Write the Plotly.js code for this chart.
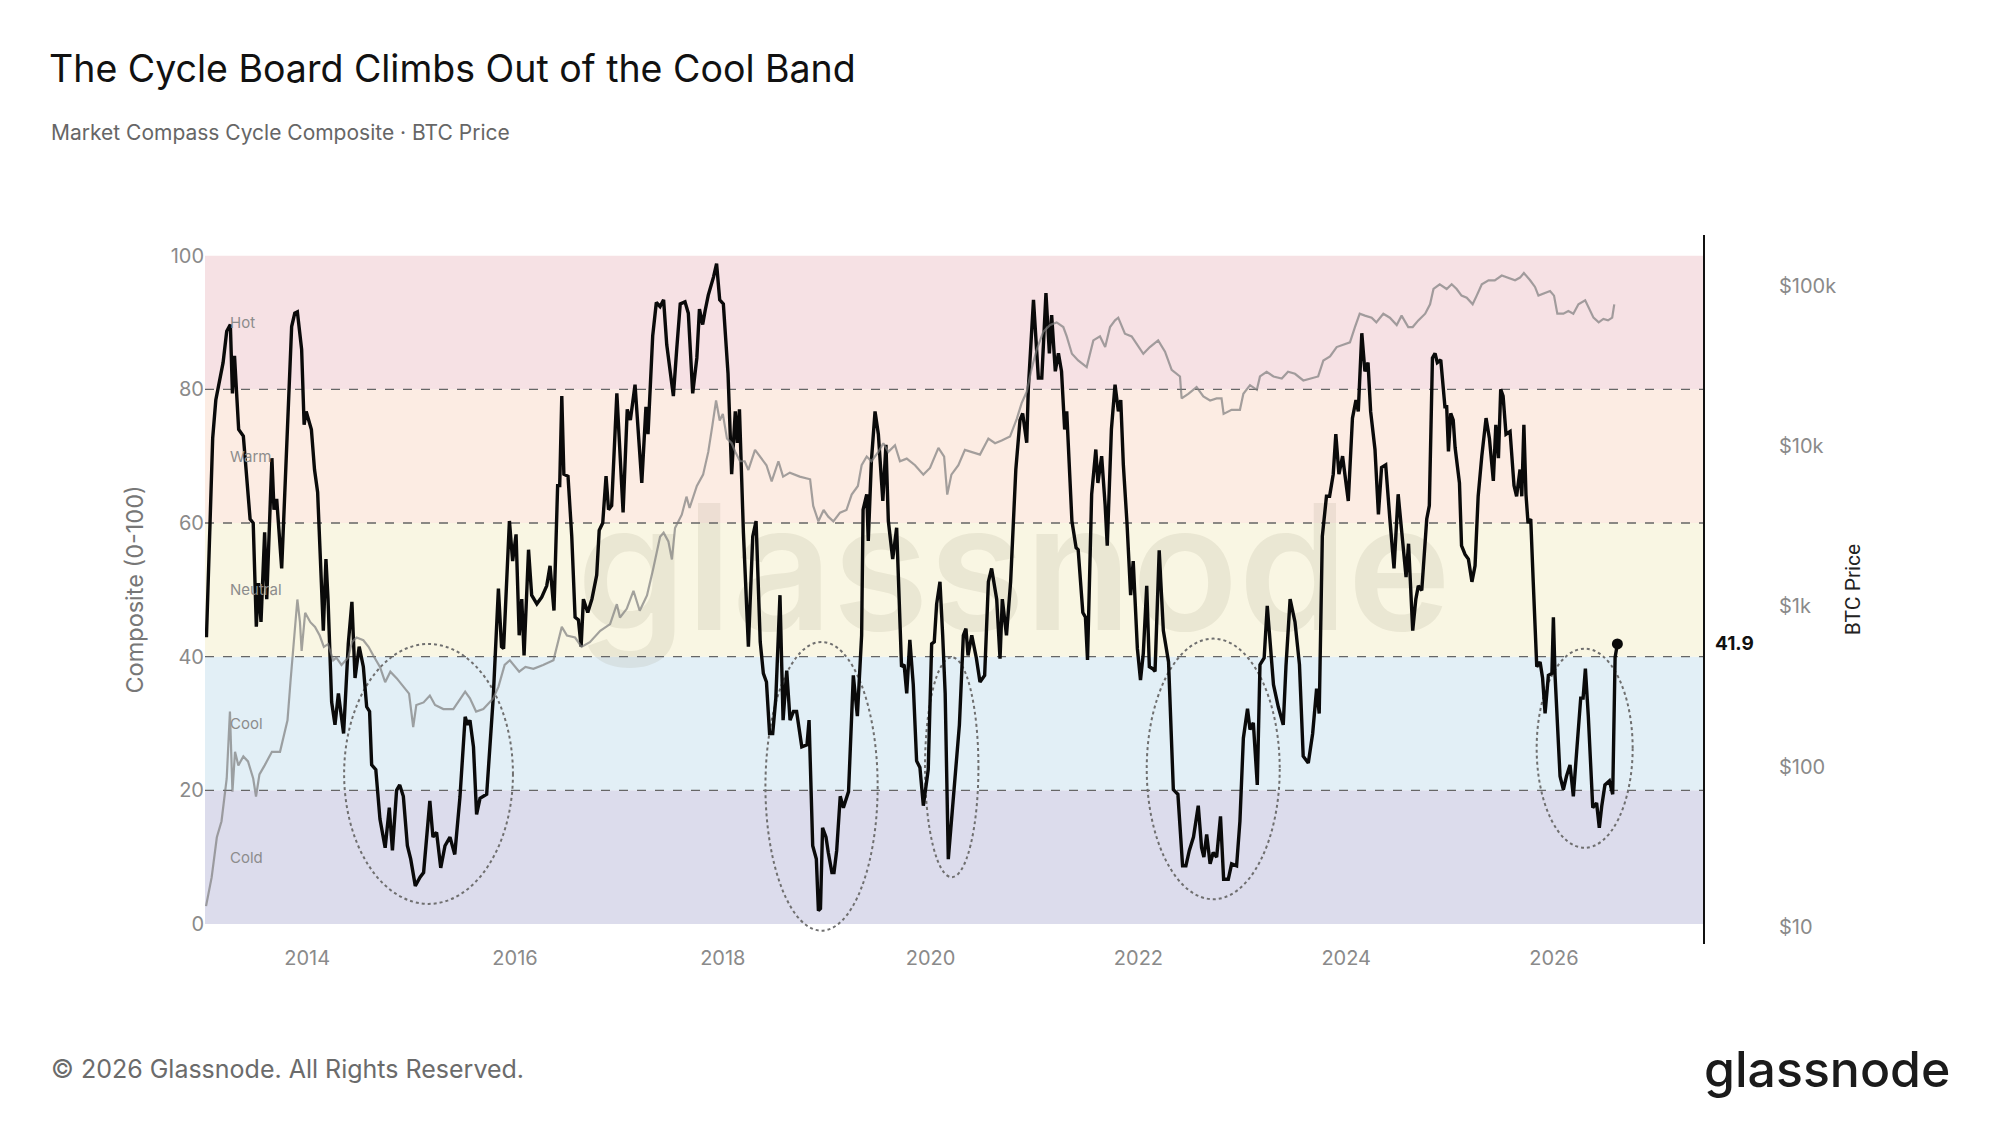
<!DOCTYPE html>
<html>
<head>
<meta charset="utf-8">
<script src="https://cdn.plot.ly/plotly-3.0.1.min.js"></script>
<style>html,body{margin:0;padding:0;background:#fff;}#chart{width:2000px;height:1125px;}</style>
</head>
<body>
<div id="chart"></div>
<script>
// ---- Data ----
const compositeT = [2013.03,2013.09,2013.12,2013.16,2013.19,2013.225,2013.26,2013.28,2013.30,2013.34,2013.385,2013.45,2013.48,2013.51,2013.53,2013.555,2013.59,2013.61,2013.66,2013.68,2013.706,2013.754,2013.82,2013.85,2013.88,2013.905,2013.946,2013.97,2013.99,2014.04,2014.07,2014.10,2014.155,2014.18,2014.20,2014.235,2014.267,2014.30,2014.35,2014.395,2014.43,2014.46,2014.50,2014.54,2014.572,2014.60,2014.62,2014.66,2014.70,2014.75,2014.79,2014.82,2014.86,2014.89,2014.925,2014.964,2014.996,2015.04,2015.086,2015.12,2015.18,2015.21,2015.245,2015.285,2015.326,2015.374,2015.42,2015.47,2015.52,2015.544,2015.566,2015.60,2015.63,2015.663,2015.727,2015.75,2015.79,2015.84,2015.87,2015.89,2015.913,2015.946,2015.977,2016.01,2016.04,2016.065,2016.087,2016.13,2016.16,2016.21,2016.257,2016.305,2016.337,2016.375,2016.41,2016.43,2016.45,2016.47,2016.51,2016.546,2016.578,2016.61,2016.636,2016.658,2016.70,2016.74,2016.786,2016.81,2016.844,2016.876,2016.90,2016.93,2016.98,2017.01,2017.04,2017.08,2017.11,2017.155,2017.19,2017.22,2017.26,2017.28,2017.325,2017.36,2017.396,2017.43,2017.46,2017.524,2017.556,2017.59,2017.636,2017.668,2017.71,2017.75,2017.775,2017.806,2017.83,2017.86,2017.91,2017.94,2017.97,2018.005,2018.05,2018.085,2018.12,2018.14,2018.16,2018.198,2018.246,2018.288,2018.32,2018.36,2018.39,2018.42,2018.45,2018.48,2018.51,2018.55,2018.58,2018.615,2018.647,2018.68,2018.71,2018.76,2018.81,2018.83,2018.865,2018.90,2018.92,2018.94,2018.96,2018.993,2019.015,2019.05,2019.07,2019.096,2019.13,2019.16,2019.21,2019.256,2019.295,2019.31,2019.336,2019.35,2019.385,2019.40,2019.43,2019.465,2019.497,2019.54,2019.57,2019.593,2019.635,2019.673,2019.72,2019.745,2019.77,2019.80,2019.833,2019.865,2019.897,2019.93,2019.977,2020.01,2020.035,2020.058,2020.09,2020.116,2020.14,2020.17,2020.20,2020.235,2020.277,2020.315,2020.34,2020.36,2020.396,2020.44,2020.475,2020.52,2020.556,2020.587,2020.636,2020.668,2020.69,2020.73,2020.77,2020.82,2020.86,2020.886,2020.925,2020.94,2020.99,2021.037,2021.07,2021.11,2021.143,2021.165,2021.20,2021.23,2021.26,2021.29,2021.31,2021.36,2021.40,2021.42,2021.465,2021.49,2021.51,2021.55,2021.59,2021.61,2021.646,2021.68,2021.70,2021.74,2021.775,2021.807,2021.83,2021.855,2021.89,2021.925,2021.95,2021.99,2022.02,2022.047,2022.08,2022.105,2022.137,2022.16,2022.20,2022.24,2022.29,2022.336,2022.38,2022.425,2022.457,2022.49,2022.53,2022.576,2022.608,2022.63,2022.657,2022.69,2022.72,2022.753,2022.79,2022.82,2022.865,2022.897,2022.945,2022.977,2023.01,2023.05,2023.074,2023.106,2023.144,2023.17,2023.21,2023.24,2023.27,2023.30,2023.346,2023.394,2023.42,2023.46,2023.507,2023.55,2023.586,2023.635,2023.677,2023.715,2023.74,2023.77,2023.81,2023.84,2023.875,2023.90,2023.93,2023.965,2024.02,2024.06,2024.094,2024.116,2024.15,2024.18,2024.21,2024.235,2024.277,2024.31,2024.34,2024.38,2024.42,2024.46,2024.50,2024.55,2024.576,2024.60,2024.64,2024.67,2024.694,2024.727,2024.775,2024.80,2024.83,2024.855,2024.877,2024.91,2024.95,2024.967,2024.984,2025.006,2025.03,2025.048,2025.09,2025.11,2025.144,2025.176,2025.21,2025.24,2025.27,2025.305,2025.346,2025.378,2025.416,2025.44,2025.465,2025.487,2025.51,2025.538,2025.577,2025.615,2025.64,2025.673,2025.69,2025.71,2025.73,2025.75,2025.776,2025.80,2025.834,2025.866,2025.89,2025.914,2025.946,2025.98,2025.994,2026.01,2026.058,2026.09,2026.12,2026.154,2026.186,2026.218,2026.257,2026.28,2026.302,2026.33,2026.373,2026.41,2026.436,2026.46,2026.49,2026.533,2026.565,2026.588,2026.61];
const compositeV = [42.9,72.7,78.4,82,84,88.7,89.7,79.4,85,74,73,60.6,60,44.5,51,45.2,58.6,48.6,69.7,62,63.6,53.2,77.4,89.4,91.4,91.6,86,74.7,76.7,74,68,64.6,43.9,54.6,48.6,33.2,29.8,34.5,28.5,41.9,48.2,36.8,41.5,38.5,32.5,31.8,23.8,23.1,15.7,11.4,17.4,11,20,20.8,19.1,11.7,9.7,5.7,7,7.7,18.4,13,13.7,8.4,11.7,13,10.4,19,31,29.8,30.5,26.5,16.4,18.8,19.4,25,33.8,50.2,41.5,41.2,50.2,60.3,54.3,58.3,43.2,48.6,40.2,56,49.2,47.9,48.9,50.6,53.6,46.9,65.6,65.6,79,67.3,67,58,45.9,45.5,41.5,48.6,46.6,48.6,52.2,58.9,60,67,62,62.6,79.4,71.3,61.6,77,75.4,80.7,73.3,66,77.4,73.3,88,93,92.4,93.4,86.7,79,86,92.8,93.1,91.4,79.4,84.7,92,89.7,91.8,94.1,96.8,98.8,93.4,92.8,82.4,67.3,76.7,72,77,58.6,41.5,58,60.3,42.2,37.5,36.2,28.5,28.5,33.8,49.2,30.5,37.9,30.5,31.8,31.8,26.5,26.8,30.5,11.7,9.7,2,2.3,14.4,13,10.7,7.7,7.7,11,19.1,17.4,19.8,37.2,31.1,35.8,43.2,62,64.3,57.3,69.3,76.7,73.3,63.3,71.7,60.3,54.6,59.3,38.5,38.8,34.5,42.5,35.8,24.4,23.4,17.7,23.1,41.9,42.2,47.9,51.2,43.2,34.5,9.7,15.7,22.1,29.8,43.2,44.2,40.2,43.2,39.8,36.2,37.2,51.2,53.2,48.6,39.7,48.6,43.2,51.2,68,75.4,76.4,72,80,93.4,81.7,81.7,94.4,85.4,91.1,82.7,85.4,82.7,74,76.7,60.3,56.3,56,46.6,45.9,39.5,64.3,71,66,70,62.6,56.6,74,80.7,76.7,78.4,68.7,60,49.2,54.3,41.2,36.5,40.5,50.6,38.5,38.2,37.8,55.9,43.9,39.2,20.1,19.4,8.7,8.7,11,13,17.7,11.4,10,13.4,9,10.7,10,16.1,6.7,6.7,9,8.7,15.4,27.8,32.2,29.1,30.1,20.8,38.8,39.8,47.6,41.9,35.8,32.5,29.8,38.5,48.6,45.2,38.8,25.1,24.1,28.5,35.2,31.5,58,64,64,67.3,73.3,67.3,70,63.3,75.7,78.4,76.7,88.4,82.7,84,76.7,71,61.3,68.3,68.7,60.6,53.2,64.3,55.3,51.9,56.9,43.9,48.6,50.6,49.9,60.6,62.6,84.7,85.4,84,84.4,77.4,77.4,70.7,76.4,75.4,71.3,66,56.6,55.3,54.6,51.2,53.6,64,70,75.7,72.7,66.3,74.7,69.7,80,79,73.3,73.7,65.6,64,68,64,74.7,64.3,60,60.6,51.2,38.5,39.2,36.8,31.5,37.2,37.5,45.9,37.2,22.1,20.1,22.1,23.8,19.1,25.8,33.8,33.8,38.2,31.1,17.4,18.1,14.4,17.7,20.8,21.4,19.4,39.9,41.9];

const priceT = [2013.026,2013.08,2013.13,2013.175,2013.225,2013.256,2013.28,2013.305,2013.337,2013.385,2013.43,2013.48,2013.507,2013.54,2013.59,2013.66,2013.738,2013.76,2013.81,2013.84,2013.87,2013.905,2013.93,2013.946,2013.98,2014.03,2014.075,2014.12,2014.16,2014.20,2014.25,2014.28,2014.33,2014.395,2014.43,2014.475,2014.54,2014.59,2014.636,2014.70,2014.75,2014.80,2014.86,2014.925,2014.98,2015.02,2015.05,2015.12,2015.18,2015.23,2015.31,2015.406,2015.52,2015.566,2015.625,2015.695,2015.79,2015.84,2015.90,2015.95,2016.0,2016.04,2016.10,2016.177,2016.27,2016.37,2016.418,2016.45,2016.50,2016.578,2016.64,2016.72,2016.82,2016.915,2016.98,2017.01,2017.075,2017.14,2017.20,2017.27,2017.33,2017.396,2017.43,2017.476,2017.51,2017.54,2017.605,2017.65,2017.68,2017.75,2017.81,2017.86,2017.90,2017.935,2017.97,2018.0,2018.04,2018.085,2018.12,2018.165,2018.21,2018.246,2018.31,2018.36,2018.42,2018.47,2018.535,2018.58,2018.645,2018.74,2018.84,2018.87,2018.92,2018.97,2019.015,2019.064,2019.128,2019.19,2019.24,2019.30,2019.336,2019.385,2019.43,2019.497,2019.545,2019.593,2019.657,2019.705,2019.77,2019.85,2019.93,2019.994,2020.075,2020.13,2020.16,2020.20,2020.267,2020.33,2020.396,2020.475,2020.556,2020.62,2020.684,2020.764,2020.83,2020.876,2020.925,2020.97,2021.02,2021.085,2021.15,2021.213,2021.277,2021.31,2021.36,2021.42,2021.502,2021.566,2021.63,2021.68,2021.727,2021.775,2021.806,2021.87,2021.935,2022.0,2022.047,2022.11,2022.19,2022.256,2022.32,2022.40,2022.416,2022.48,2022.56,2022.625,2022.69,2022.753,2022.80,2022.82,2022.897,2022.977,2023.01,2023.074,2023.14,2023.17,2023.234,2023.30,2023.38,2023.44,2023.507,2023.587,2023.65,2023.73,2023.78,2023.844,2023.908,2023.97,2024.036,2024.084,2024.13,2024.18,2024.245,2024.29,2024.357,2024.42,2024.486,2024.533,2024.597,2024.64,2024.694,2024.76,2024.807,2024.84,2024.90,2024.967,2025.015,2025.063,2025.11,2025.16,2025.217,2025.256,2025.305,2025.37,2025.43,2025.497,2025.56,2025.625,2025.673,2025.71,2025.77,2025.817,2025.85,2025.898,2025.962,2026.0,2026.032,2026.09,2026.138,2026.186,2026.235,2026.30,2026.34,2026.38,2026.43,2026.475,2026.52,2026.56,2026.58];
const priceUSD = [13.5,20.4,36.3,45.7,84.5,221,69.8,124,102,116,108,84.5,65.2,89.6,102,124,124,141,195,347,582,1106,798,528,913,798,746,659,560,582,462,480,432,480,599,640,616,560,494,420,337,392,357,315,286,177,243,252,278,243,229,229,294,267,221,229,267,315,432,462,420,392,420,408,432,462,616,746,659,640,560,599,705,776,1034,854,967,1253,940,1172,1719,2725,2886,2548,1966,3088,3740,4845,4115,5650,6650,9220,13530,19290,14470,15920,11160,10440,9220,8060,8060,7110,9490,8620,7610,6040,8060,6460,6840,6460,6220,4240,3400,4000,3635,3400,3850,4000,4990,5650,7610,8620,8060,9220,10440,9220,10140,8060,8370,7610,6650,7320,9770,8620,4990,6650,7610,9490,9220,8870,11160,10440,10850,11490,14890,18570,21860,29970,39980,51860,57040,59260,55420,48450,37740,34300,31170,45730,48450,41560,55420,60990,63390,50330,48450,41560,37740,41560,45730,38870,29970,27250,19860,21240,23380,20430,19290,19860,19860,15920,16870,16870,21240,24050,22490,27250,29150,27250,26480,29150,28300,25730,26480,27250,34300,36330,41560,42790,44460,55420,67140,65300,63390,59260,67140,63390,57040,65300,55420,55420,60990,67140,76820,95740,102400,95740,102400,95740,87040,84540,76820,87040,102400,108500,108500,116100,112800,108500,112800,120500,108500,98600,87040,89580,93060,87040,67140,67140,69770,67140,76820,81350,71780,63390,59260,62230,60990,63390,76820];

const bandNames = ['Cold','Cool','Neutral','Warm','Hot'];
const bandEdges = [0,20,40,60,80,100];
const thresholdLines = [20,40,60,80];
const yearTicks = [2014,2016,2018,2020,2022,2024,2026];
const priceTicks = [10,100,1000,10000,100000];
const priceTickText = ['$10','$100','$1k','$10k','$100k'];
// highlighted cold periods: [start, end, low, high]
const coldPeriods = [
  [2014.355,2015.98,3.0,41.9],
  [2018.41,2019.49,-1.0,42.2],
  [2019.946,2020.46,7.0,39.9],
  [2022.08,2023.36,3.7,42.7],
  [2025.833,2026.757,11.4,41.2]
];
const latestValue = compositeV[compositeV.length-1];

// ---- Styles ----
const bandColors = ['#dcdcec','#e2eff6','#f9f6e3','#fcece3','#f6e1e4'];
const FONT = 'Inter, "Noto Sans", "Open Sans", sans-serif';

const shapes = [];
for (let i=0;i<bandNames.length;i++){
  shapes.push({type:'rect',xref:'paper',x0:0,x1:1,yref:'y',y0:bandEdges[i],y1:bandEdges[i+1],
    fillcolor:bandColors[i],line:{width:0},layer:'below'});
}
shapes.push({type:'rect',xref:'paper',x0:0.25,x1:0.83,yref:'paper',y0:0.40,y1:0.68,line:{width:0},
  fillcolor:'rgba(0,0,0,0)',layer:'below',
  label:{text:'glassnode',textposition:'middle center',font:{family:FONT,size:175,color:'rgba(150,140,115,0.14)',weight:600}}});
thresholdLines.forEach(v=>{
  shapes.push({type:'line',xref:'paper',x0:0,x1:1,yref:'y',y0:v,y1:v,
    line:{color:'#666',width:1.3,dash:'dash'},layer:'below'});
});
coldPeriods.forEach(p=>{
  shapes.push({type:'circle',xref:'x',yref:'y',x0:p[0],x1:p[1],y0:p[2],y1:p[3],
    line:{color:'#6f6f6f',width:2,dash:'dot'},fillcolor:'rgba(0,0,0,0)',layer:'below'});
});

const annotations = [];
bandNames.forEach((n,i)=>{
  annotations.push({x:2013.24,y:(bandEdges[i]+bandEdges[i+1])/2,xref:'x',yref:'y',text:n,showarrow:false,
    xanchor:'left',yanchor:'middle',font:{family:FONT,size:15,color:'#8c8c8c'}});
});
annotations.push({xref:'paper',yref:'y',x:1.0067,y:latestValue,text:String(latestValue),showarrow:false,
  xanchor:'left',yanchor:'middle',font:{family:FONT,size:19,color:'#111',weight:700}});
annotations.push({xref:'paper',yref:'paper',x:-0.1041,y:1.1439,xanchor:'left',yanchor:'middle',showarrow:false,
  text:'Market Compass Cycle Composite · BTC Price',font:{family:FONT,size:21,color:'#666'}});
annotations.push({xref:'paper',yref:'paper',x:-0.1041,y:-0.1763,xanchor:'left',yanchor:'middle',showarrow:false,
  text:'© 2026 Glassnode. All Rights Reserved.',font:{family:FONT,size:25,color:'#6b6b6b'}});
annotations.push({xref:'paper',yref:'paper',x:1.1665,y:-0.1763,xanchor:'right',yanchor:'middle',showarrow:false,
  text:'glassnode',font:{family:FONT,size:50,color:'#1b1b1b',weight:500}});

const traces = [
  {x:priceT,y:priceUSD,yaxis:'y2',type:'scatter',mode:'lines',
    line:{color:'rgba(125,125,125,0.7)',width:2.2},hoverinfo:'skip',showlegend:false},
  {x:compositeT,y:compositeV,type:'scatter',mode:'lines',
    line:{color:'#0a0a0a',width:3.4},showlegend:false},
  {x:[compositeT[compositeT.length-1]],y:[latestValue],type:'scatter',mode:'markers',
    marker:{color:'#0a0a0a',size:11},showlegend:false}
];

const layout = {
  width:2000,height:1125,
  paper_bgcolor:'#ffffff',plot_bgcolor:'#ffffff',
  font:{family:FONT},
  margin:{l:205,r:297,t:235,b:181},
  title:{text:'The Cycle Board Climbs Out of the Cool Band',x:0.0245,xref:'container',xanchor:'left',
    y:0.9387,yref:'container',yanchor:'middle',font:{family:FONT,size:37.5,color:'#111'}},
  xaxis:{range:[2013.016,2027.434],tickvals:yearTicks,ticktext:yearTicks.map(String),showgrid:false,zeroline:false,
    showline:false,ticks:'',tickfont:{size:20,color:'#8a8a8a'}},
  yaxis:{range:[-3.0,103.1],tickvals:[0,20,40,60,80,100],showgrid:false,zeroline:false,showline:false,ticks:'',
    tickfont:{size:20,color:'#8a8a8a'},title:{text:'Composite (0-100)',font:{size:23.5,color:'#777'},standoff:20}},
  yaxis2:{overlaying:'y',side:'right',type:'log',range:[0.894,5.318],tickvals:priceTicks,ticktext:priceTickText,
    showgrid:false,zeroline:false,showline:true,linecolor:'#111',linewidth:2,ticks:'',ticklabelstandoff:70,
    tickfont:{size:20,color:'#8a8a8a'},
    title:{text:'BTC Price',font:{family:'Roboto, sans-serif',size:21,color:'#222'},standoff:10}},
  shapes:shapes,annotations:annotations,showlegend:false
};

Plotly.newPlot('chart',traces,layout,{displayModeBar:false,staticPlot:true});
</script>
</body>
</html>
